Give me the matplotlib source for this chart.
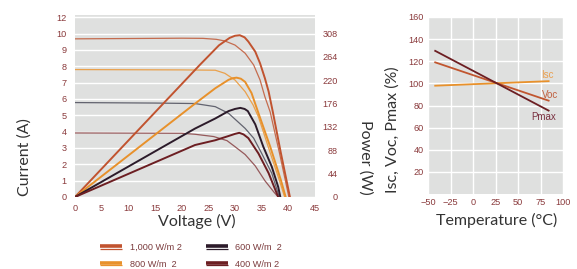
import matplotlib
matplotlib.use("Agg")
import matplotlib.pyplot as plt
from matplotlib.lines import Line2D
from matplotlib.legend_handler import HandlerBase

# ---------------- data ----------------
irr_labels = ["1,000 W/m 2", "800 W/m  2", "600 W/m  2", "400 W/m 2"]
pv_colors = ["#c1532f", "#e8912b", "#2c1b2a", "#6c1e22"]
iv_colors = ["#c2603f", "#eb9a3c", "#555663", "#8d4a4c"]

# I-V curves (Voltage V, Current A)
iv_v_1000 = [0, 10, 20, 24, 26.5, 28.1, 30.0, 31.9, 33.5, 34.7, 35.6, 36.6, 38.4, 40.1]
iv_i_1000 = [9.68, 9.70, 9.72, 9.71, 9.65, 9.55, 9.3, 8.8, 8.08, 7.16, 6.14, 5.2, 2.6, 0]
iv_v_800 = [0, 20, 26.3, 28.1, 30.0, 31.9, 33.4, 34.4, 36.2, 38.3, 39.3]
iv_i_800 = [7.8, 7.78, 7.76, 7.57, 7.16, 6.45, 5.63, 4.9, 3.1, 1.04, 0]
iv_v_600 = [0, 15, 22.5, 26.3, 28.8, 31.9, 33.5, 35.0, 36.9, 38.3]
iv_i_600 = [5.78, 5.75, 5.72, 5.53, 5.12, 4.2, 3.6, 2.67, 1.45, 0]
iv_v_400 = [0, 20, 22.5, 26.0, 28.5, 30.0, 31.9, 33.8, 35.6, 37.3, 38.1]
iv_i_400 = [3.92, 3.9, 3.84, 3.7, 3.45, 3.08, 2.6, 1.9, 1.0, 0.3, 0]

# P-V curves (Voltage V, Power W)
pv_v_1000 = [0, 23.4, 27.0, 29.0, 30.0, 30.9, 31.8, 32.5, 33.8, 34.7, 35.6, 36.3, 37.1, 38.6, 40.3]
pv_p_1000 = [0, 249, 286, 300, 304, 305, 301, 293, 274, 252, 224, 199, 160, 83, 0]
pv_v_800 = [0, 22.5, 26.3, 28.8, 29.6, 30.3, 31.1, 31.9, 33.1, 34.4, 36.6, 38.6, 39.5]
pv_p_800 = [0, 176, 205, 221, 224, 225, 223, 217, 196, 158, 95, 32, 0]
pv_v_600 = [0, 22.5, 26.3, 28.8, 30.0, 31.0, 31.8, 32.4, 33.8, 35.3, 36.9, 38.1, 38.5]
pv_p_600 = [0, 129, 148, 162, 166, 168, 166, 162, 137, 95, 57, 19, 0]
pv_v_400 = [0, 22.5, 26.3, 28.8, 30.0, 30.8, 31.6, 32.5, 34.4, 36.3, 38.1]
pv_p_400 = [0, 98, 107, 115, 119, 121, 118, 111, 82, 45, 0]

iv_v = [iv_v_1000, iv_v_800, iv_v_600, iv_v_400]
iv_i = [iv_i_1000, iv_i_800, iv_i_600, iv_i_400]
pv_v = [pv_v_1000, pv_v_800, pv_v_600, pv_v_400]
pv_p = [pv_p_1000, pv_p_800, pv_p_600, pv_p_400]

cur_ticks = [0, 1, 2, 3, 4, 5, 6, 7, 8, 9, 10, 11]
cur_labels = ["0", "1", "2", "3", "4", "5", "6", "7", "8", "9", "10", "12"]
volt_ticks = [0, 5, 10, 15, 20, 25, 30, 35, 40, 45]
pow_ticks = [0, 44, 88, 132, 176, 220, 264, 308]

# temperature coefficients
temp = [-42, 84]
isc_pct = [97.9, 102.0]
voc_pct = [119.0, 84.4]
pmax_pct = [129.4, 75.4]
temp_ticks = [-50, -25, 0, 25, 50, 75, 100]
pct_ticks = [20, 40, 60, 80, 100, 120, 140, 160]

# ---------------- style ----------------
BG = "#dfe0df"
TICK_C = "#8a3a3c"
LAB_C = "#333333"
W, H = 577, 269
fig = plt.figure(figsize=(W / 100, H / 100), dpi=100)

def rect(l, t, r, b):
    return [l / W, 1 - b / H, (r - l) / W, (b - t) / H]

tick_family = ["Liberation Sans", "DejaVu Sans"]
lab_font = dict(family=["Lato", "DejaVu Sans"], size=11.5, color=LAB_C)

# ---------------- left chart ----------------
ax = fig.add_axes(rect(75, 15, 315, 197))
ax.set_facecolor(BG)
for s in ax.spines.values():
    s.set_visible(False)
ax.set_xlim(0, 45)
ax.set_ylim(0, 11.14)
ax.set_yticks(cur_ticks)
ax.set_yticklabels(cur_labels)
ax.set_xticks(volt_ticks)
ax.grid(axis="y", color="white", lw=1.0)
ax.set_axisbelow(True)
ax.tick_params(length=0, colors=TICK_C, labelsize=6.6)
ax.tick_params(axis="y", pad=6)
ax.tick_params(axis="x", pad=5)
for lbl in ax.get_xticklabels() + ax.get_yticklabels():
    lbl.set_fontfamily(tick_family)

ax2 = ax.twinx()
for s in ax2.spines.values():
    s.set_visible(False)
ax2.set_ylim(0, 11.14 * 30.8)
ax2.set_yticks(pow_ticks)
ax2.tick_params(length=0, colors=TICK_C, labelsize=6.6, pad=16.5)
for lbl in ax2.get_yticklabels():
    lbl.set_fontfamily(tick_family)
    lbl.set_horizontalalignment("right")

for k in range(4):
    ax.plot(iv_v[k], iv_i[k], color=iv_colors[k], lw=0.9, alpha=0.9,
            solid_joinstyle="round", zorder=3)
    ax2.plot(pv_v[k], pv_p[k], color=pv_colors[k], lw=1.4,
             solid_joinstyle="round", zorder=4)

fig.text(25 / W, 1 - 157 / H, "Current (A)", rotation=90, ha="center", va="center", **lab_font)
fig.text(197 / W, 1 - 221 / H, "Voltage (V)", ha="center", va="center", **lab_font)
fig.text(365 / W, 1 - 157 / H, "Power (W)", rotation=270, ha="center", va="center", **lab_font)

# ---------------- legend ----------------
class DoubleLine(HandlerBase):
    def create_artists(self, legend, orig_handle, xdescent, ydescent,
                       width, height, fontsize, trans):
        c = orig_handle.get_color()
        x0, x1 = -xdescent, -xdescent + width
        thick = Line2D([x0, x1], [0.62 * height - ydescent] * 2, color=c, lw=2.6,
                       solid_capstyle="butt", transform=trans)
        thin = Line2D([x0, x1], [0.22 * height - ydescent] * 2, color=c, lw=0.9,
                      solid_capstyle="butt", transform=trans)
        return [thick, thin]

handles = [Line2D([], [], color=c) for c in pv_colors]
leg = fig.legend(handles, irr_labels, loc="upper left",
                 bbox_to_anchor=(100 / W, 1 - 243 / H), ncol=2, frameon=False,
                 handler_map={Line2D: DoubleLine()},
                 prop=dict(family=tick_family, size=6.6),
                 handlelength=2.4, handletextpad=0.85, columnspacing=2.6,
                 labelspacing=0.85, borderaxespad=0, borderpad=0)
for t in leg.get_texts():
    t.set_color("#7a3a3c")

# ---------------- right chart ----------------
bx = fig.add_axes(rect(428, 17, 563, 194))
bx.set_facecolor(BG)
for s in bx.spines.values():
    s.set_visible(False)
bx.set_xlim(-50, 100)
bx.set_ylim(0, 160)
bx.set_xticks(temp_ticks)
bx.set_yticks(pct_ticks)
bx.grid(True, color="white", lw=1.0)
bx.set_axisbelow(True)
bx.tick_params(length=0, colors=TICK_C, labelsize=6.6, pad=3)
for lbl in bx.get_xticklabels() + bx.get_yticklabels():
    lbl.set_fontfamily(tick_family)

bx.plot(temp, isc_pct, color="#e8912b", lw=1.3)
bx.plot(temp, voc_pct, color="#c1562f", lw=1.3)
bx.plot(temp, pmax_pct, color="#6c1e22", lw=1.3)
bx.text(83, 108, "Isc", color="#e9a050", ha="center", va="center",
        family=tick_family, size=7)
bx.text(86, 89.5, "Voc", color="#c0603f", ha="center", va="center",
        family=tick_family, size=7)
bx.text(79, 70, "Pmax", color="#7a3040", ha="center", va="center",
        family=tick_family, size=7)

fig.text(393 / W, 1 - 130 / H, "Isc, Voc, Pmax (%)", rotation=90, ha="center", va="center", **lab_font)
fig.text(497 / W, 1 - 220 / H, "Temperature (°C)", ha="center", va="center", **lab_font)

fig.savefig("out.png", dpi=100, facecolor="white")
